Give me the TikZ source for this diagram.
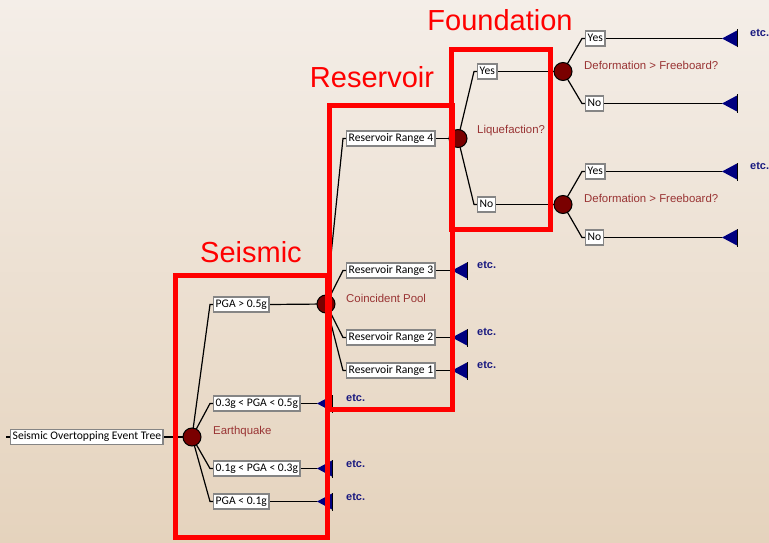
\documentclass[tikz,border=0pt]{standalone}
\usepackage{fontspec}
\setmainfont{Liberation Sans}
\newfontfamily\boxfont{Carlito}
\usetikzlibrary{calc}
\pgfdeclarelayer{bg}
\pgfdeclarelayer{lines}
\pgfsetlayers{bg,lines,main}
\definecolor{chancered}{HTML}{7A0000}
\definecolor{labelred}{HTML}{993333}
\definecolor{navyb}{HTML}{000080}
\definecolor{etcblue}{HTML}{1A1A80}
\definecolor{boxgray}{HTML}{858585}
\definecolor{bgtop}{HTML}{F4EEE8}
\definecolor{bgbot}{HTML}{E5D3BD}
\tikzset{
 evbox/.style={draw=boxgray, line width=1.4pt, fill=white, font=\boxfont\fontsize{11.6}{13}\selectfont, inner xsep=2pt, inner ysep=0pt, minimum height=15pt, anchor=west, text height=8.2pt, text depth=2.6pt},
 chance/.style={circle, draw=black, line width=1pt, fill=chancered, minimum size=18pt, inner sep=0pt},
 clabel/.style={anchor=west, text=labelred, font=\fontsize{11.4}{13}\selectfont, inner sep=0pt},
 etcl/.style={anchor=west, text=etcblue, font=\bfseries\fontsize{11}{13}\selectfont, inner sep=0pt},
 conn/.style={line width=1.2pt, black},
 redbox/.style={draw=red, line width=5pt},
 title/.style={text=red, font=\fontsize{29}{32}\selectfont, inner sep=0pt},
}
\newcommand\termtri[1]{%
 \fill[navyb] (#1) -- ++(15,8) -- ++(0,-16) -- cycle;
 \draw[black, line width=1pt] ($(#1)+(15,9)$) -- ++(0,-18);}
\newcommand\branch[3]{\draw[conn] (#1.center) -- ($(#2.west)+(-#3,0)$) -- (#2.west);}
\begin{document}
\begin{tikzpicture}[x=1pt,y=-1pt]
\useasboundingbox (0,0) rectangle (769,543);
\begin{pgfonlayer}{bg}
\shade[top color=bgtop, bottom color=bgbot] (0,0) rectangle (769,543);
\end{pgfonlayer}

% root
\coordinate (stub) at (6,437);
\node[evbox] (root) at (10,437) {Seismic Overtopping Event Tree};
\node[chance] (c0) at (192,437) {};
\node[clabel] (l0) at (213,432) {Earthquake};

% seismic branches
\node[evbox] (b1) at (213,304.5) {PGA > 0.5g};
\node[evbox] (b2) at (213,403.5) {0.3g < PGA < 0.5g};
\node[evbox] (b3) at (213,468.5) {0.1g < PGA < 0.3g};
\node[evbox] (b4) at (213,501.5) {PGA < 0.1g};
\coordinate (t2) at (317,403.5);
\coordinate (t3) at (317,468.5);
\coordinate (t4) at (317,501.5);
\node[etcl] (e2) at (346,398) {etc.};
\node[etcl] (e3) at (346,464) {etc.};
\node[etcl] (e4) at (346,497) {etc.};

% reservoir
\node[chance] (c1) at (326,304) {};
\node[clabel] (l1) at (346,298) {Coincident Pool};
\node[evbox] (r4) at (346,138.5) {Reservoir Range 4};
\node[evbox] (r3) at (346,270.5) {Reservoir Range 3};
\node[evbox] (r2) at (346,337.5) {Reservoir Range 2};
\node[evbox] (r1) at (346,370.5) {Reservoir Range 1};
\coordinate (t5) at (452,270.5);
\coordinate (t6) at (452,337.5);
\coordinate (t7) at (452,370.5);
\node[etcl] (e5) at (477,265) {etc.};
\node[etcl] (e6) at (477,332) {etc.};
\node[etcl] (e7) at (477,365) {etc.};

% foundation
\node[chance] (c2) at (458,138.5) {};
\node[clabel] (l2) at (477,131) {Liquefaction?};
\node[evbox] (y1) at (477,71.5) {Yes};
\node[evbox] (n1) at (477,204.5) {No};
\node[chance] (c3) at (563,71.5) {};
\node[chance] (c4) at (563,204.5) {};
\node[clabel] (l3) at (584,65) {Deformation > Freeboard?};
\node[clabel] (l4) at (584,198) {Deformation > Freeboard?};
\node[evbox] (y2) at (585,38.5) {Yes};
\node[evbox] (n2) at (585,103.5) {No};
\node[evbox] (y3) at (585,171.5) {Yes};
\node[evbox] (n3) at (585,237.5) {No};
\coordinate (t8) at (722,38.5);
\coordinate (t9) at (722,103.5);
\coordinate (t10) at (722,171.5);
\coordinate (t11) at (722,237.5);
\node[etcl] (e8) at (750,33) {etc.};
\node[etcl] (e9) at (750,166) {etc.};

\begin{pgfonlayer}{lines}
\draw[conn] (stub) -- (root.west);
\draw[conn] (root.east) -- (c0.center);
\branch{c0}{b1}{3}\branch{c0}{b2}{3}\branch{c0}{b3}{3}\branch{c0}{b4}{3}
\draw[conn] (b1.east) -- (c1.center);
\draw[conn] (b2.east) -- (t2);
\draw[conn] (b3.east) -- (t3);
\draw[conn] (b4.east) -- (t4);
\branch{c1}{r4}{3}\branch{c1}{r3}{3}\branch{c1}{r2}{3}\branch{c1}{r1}{3}
\draw[conn] (r4.east) -- (c2.center);
\draw[conn] (r3.east) -- (t5);
\draw[conn] (r2.east) -- (t6);
\draw[conn] (r1.east) -- (t7);
\branch{c2}{y1}{3}\branch{c2}{n1}{3}
\draw[conn] (y1.east) -- (c3.center);
\draw[conn] (n1.east) -- (c4.center);
\branch{c3}{y2}{3}\branch{c3}{n2}{3}
\branch{c4}{y3}{3}\branch{c4}{n3}{3}
\draw[conn] (y2.east) -- (t8);
\draw[conn] (n2.east) -- (t9);
\draw[conn] (y3.east) -- (t10);
\draw[conn] (n3.east) -- (t11);
\end{pgfonlayer}

\termtri{t2}\termtri{t3}\termtri{t4}
\termtri{t5}\termtri{t6}\termtri{t7}
\termtri{t8}\termtri{t9}\termtri{t10}\termtri{t11}

% highlight boxes
\draw[redbox] (175.5,275.5) rectangle (327.5,537.5);
\draw[redbox] (329.5,105.5) rectangle (452,409.5);
\draw[redbox] (451,49.5) rectangle (550.5,229);
\node[title] (ts) at (251,252) {Seismic};
\node[title] (tr) at (372,77) {Reservoir};
\node[title] (tf) at (500,20) {Foundation};
\end{tikzpicture}
\end{document}
